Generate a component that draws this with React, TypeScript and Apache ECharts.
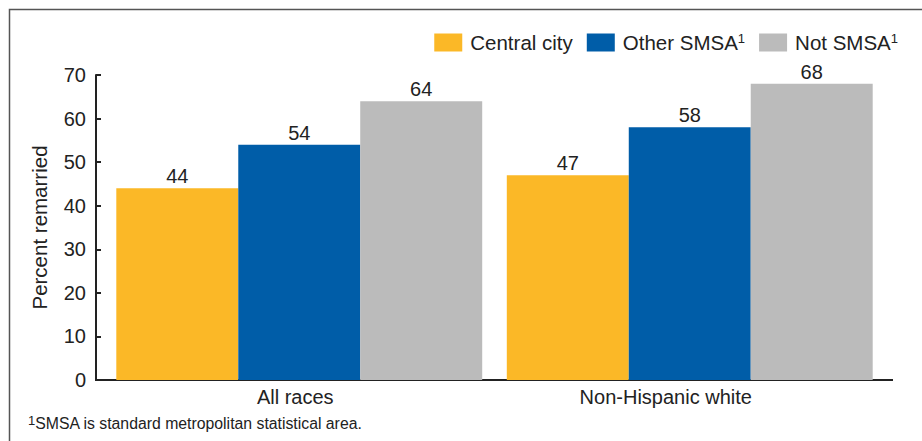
import React, { useEffect, useRef } from "react";
import * as echarts from "echarts";

const categories = ["All races", "Non-Hispanic white"];
const centralCity = [44, 47];
const otherSMSA = [54, 58];
const notSMSA = [64, 68];
const seriesNames = ["Central city", "Other SMSA", "Not SMSA"];
const supNames = ["Other SMSA", "Not SMSA"];
const yAxisName = "Percent remarried";
const footnote = "SMSA is standard metropolitan statistical area.";

const FONT = "Liberation Sans, Arial, Helvetica, sans-serif";
const colors = ["#FBB827", "#005DA8", "#BBBBBB"];
const INK = "#222";

export default function App() {
  const ref = useRef<HTMLDivElement>(null);
  useEffect(() => {
    if (!ref.current) return;
    const chart = echarts.init(ref.current, null, { renderer: "svg" });
    const label = {
      show: true,
      position: "top",
      distance: 2,
      fontSize: 20,
      color: INK,
      fontFamily: FONT,
    };
    const mk = (name: string, data: number[], color: string) => ({
      name,
      type: "bar",
      data,
      barGap: "0%",
      barCategoryGap: "6.3%",
      itemStyle: { color },
      label,
    });
    chart.setOption({
      animation: false,
      textStyle: { fontFamily: FONT },
      grid: { left: 104, right: 37, top: 75, bottom: 61 },
      legend: {
        right: 19,
        top: 27,
        itemWidth: 28,
        itemHeight: 18,
        itemGap: 14,
        icon: "rect",
        data: seriesNames,
        formatter: (n: string) => (supNames.includes(n) ? n + "{sup|1}" : n),
        textStyle: {
          fontSize: 20.5,
          color: INK,
          fontFamily: FONT,
          padding: [0, 0, 0, 3],
          rich: {
            sup: { fontSize: 13, verticalAlign: "top", color: INK, fontFamily: FONT, padding: [0, 0, 8, 0] },
          },
        },
      },
      xAxis: {
        type: "category",
        data: categories,
        axisLine: { show: false },
        axisTick: { show: false },
        axisLabel: {
          fontSize: 20,
          color: INK,
          margin: 7,
          fontFamily: FONT,
          formatter: (v: string, i: number) => (i === 0 ? "{a|" + v + "}" : "{b|" + v + "}"),
          rich: {
            a: { fontSize: 20, color: INK, fontFamily: FONT, padding: [0, 8, 0, 0] },
            b: { fontSize: 20, color: INK, fontFamily: FONT, padding: [0, 48, 0, 0] },
          },
        },
      },
      yAxis: {
        type: "value",
        min: 0,
        max: 70,
        interval: 10,
        offset: 8,
        name: yAxisName,
        nameLocation: "middle",
        nameGap: 46,
        nameTextStyle: { fontSize: 20.5, color: INK, fontFamily: FONT },
        axisLine: { show: true, lineStyle: { color: INK, width: 2 } },
        axisTick: { show: true, inside: true, length: 5, lineStyle: { color: INK, width: 2 } },
        axisLabel: { fontSize: 20, color: INK, margin: 10, fontFamily: FONT },
        splitLine: { show: false },
      },
      graphic: [
        {
          type: "polyline",
          shape: { points: [[9.5, 445], [9.5, 9.5], [925, 9.5]] },
          style: { stroke: "#555", lineWidth: 1.5, fill: null },
          silent: true,
        },
        {
          type: "line",
          shape: { x1: 95, y1: 380, x2: 893, y2: 380 },
          style: { stroke: INK, lineWidth: 2 },
          silent: true,
        },
        {
          type: "text",
          left: 28,
          top: 414,
          style: {
            text: "{sup|1}" + footnote,
            rich: {
              sup: { fontSize: 13, fontFamily: FONT, fill: INK, verticalAlign: "top", padding: [0, 0, 6, 0] },
            },
            fontSize: 15.8,
            fontFamily: FONT,
            fill: INK,
          },
        },
      ],
      series: [
        mk(seriesNames[0], centralCity, colors[0]),
        mk(seriesNames[1], otherSMSA, colors[1]),
        mk(seriesNames[2], notSMSA, colors[2]),
      ],
    });
    return () => chart.dispose();
  }, []);
  return (
    <div
      ref={ref}
      style={{ position: "absolute", left: 0, top: 0, width: 922, height: 441 }}
    />
  );
}
